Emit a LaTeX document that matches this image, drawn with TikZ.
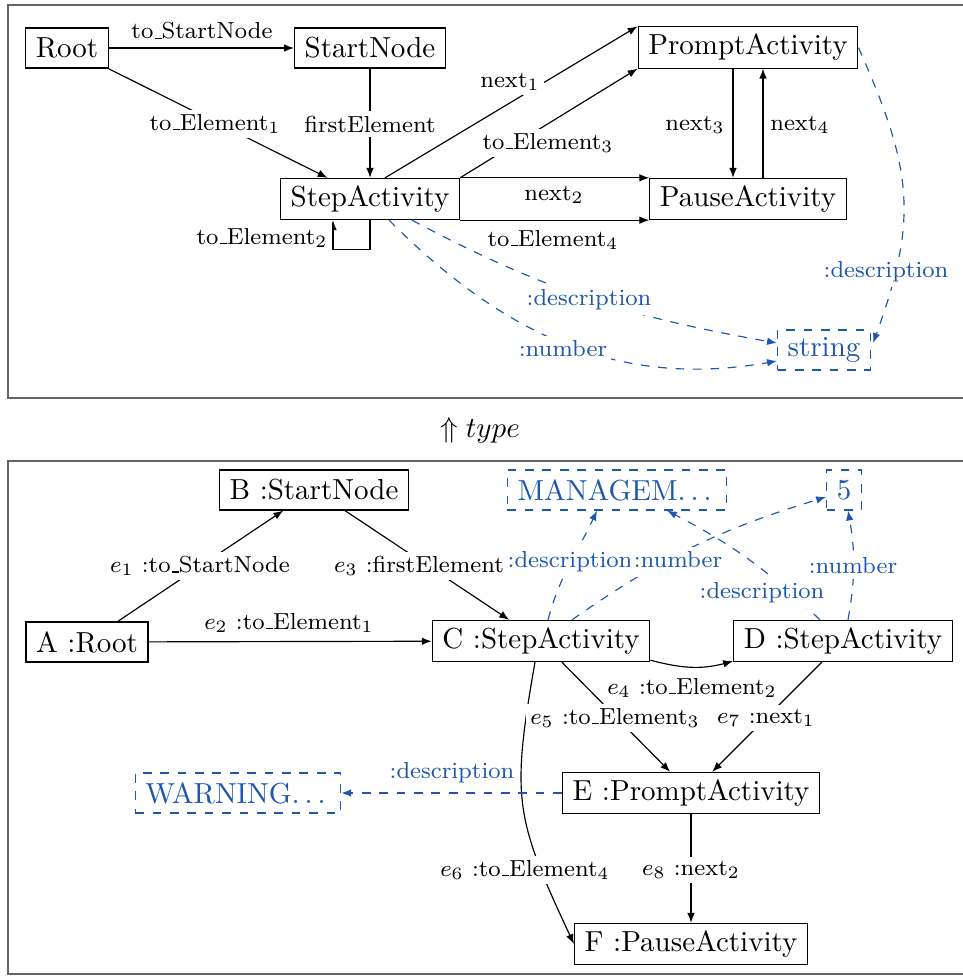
\documentclass[tikz,border=0pt]{standalone}
\usetikzlibrary{arrows.meta,calc}
\definecolor{attrblue}{RGB}{31,88,170}
\definecolor{framegray}{RGB}{100,100,100}
% short baseline underscore and spaced ellipsis
\newcommand{\uscore}{\leavevmode\kern.06em\vbox{\hrule width.3em}}
\newcommand{\spdots}{.\kern.17em.\kern.17em.\kern.17em}

\begin{document}
\begin{tikzpicture}[x=0.345pt,y=0.345pt,
  cls/.style={draw, font=\fontsize{10}{12}\selectfont, inner xsep=3.5pt, inner ysep=2.5pt, minimum height=13.8pt},
  val/.style={cls, dashed, draw=attrblue, text=attrblue},
  lbl/.style={font=\fontsize{8}{9.6}\selectfont, fill=white, inner sep=1.5pt},
  blbl/.style={lbl, text=attrblue},
  arr/.style={-{Latex[length=3.4pt,width=2.6pt]}, line width=0.4pt},
  attr/.style={arr, dashed, draw=attrblue},
  frame/.style={draw=framegray, line width=0.6pt}]

\useasboundingbox (0,0) rectangle (963,-976);
\clip (0,0) rectangle (963,-976);

% panel frames
\draw[frame] (8,-5) rectangle (985,-398);
\draw[frame] (8,-461) rectangle (985,-974);

\node (typing) at (480,-430) {$\Uparrow type$};

% ---------- type graph ----------
\node[cls] (root) at (67,-48) {Root};
\node[cls] (start) at (370,-48) {StartNode};
\node[cls] (step) at (370,-199) {StepActivity};
\node[cls] (prompt) at (748,-47.5) {PromptActivity};
\node[cls] (pause) at (748,-199) {PauseActivity};
\node[val] (str) at (824,-350) {string};

\draw[arr] (root) -- (start);
\draw[arr] (root) -- (step);
\draw[arr] (start) -- (step);
\draw[arr] ($(step.north)+(15,0)$) -- (prompt.north west);
\draw[arr] (step.north east) -- (prompt.south west);
\draw[arr] (step.north east) -- (pause.north west);
\draw[arr] (step.south east) -- (pause.south west);
\draw[arr] ($(prompt.south)+(-15,0)$) -- ($(pause.north)+(-15,0)$);
\draw[arr] ($(pause.north)+(15,0)$) -- ($(prompt.south)+(15,0)$);
\draw[arr] (step.south) -- ++(0,-29) -| ($(step.south)+(-37,0)$);

\draw[attr] ($(step.south)+(42,0)$) to[out=-28,in=170] ($(str.west)+(0,7)$);
\draw[attr] ($(step.south)+(19,0)$) to[out=-45,in=190] ($(str.west)+(0,-11)$);
\draw[attr] (prompt.east) to[out=-66,in=70,looseness=1.15] ($(str.east)+(2,7)$);

\node[lbl] (l-tsn) at (202,-31) {to\uscore StartNode};
\node[lbl] (l-te1) at (215,-124) {to\uscore Element$_1$};
\node[lbl] (l-fe) at (370,-124) {firstElement};
\node[lbl] (l-n1) at (510,-82) {next$_1$};
\node[lbl] (l-te3) at (548,-143) {to\uscore Element$_3$};
\node[lbl] (l-n2) at (554,-195) {next$_2$};
\node[lbl] (l-te4) at (553,-240) {to\uscore Element$_4$};
\node[lbl] (l-n3) at (695,-125) {next$_3$};
\node[lbl] (l-n4) at (800,-125) {next$_4$};
\node[lbl] (l-te2) at (262,-238) {to\uscore Element$_2$};
\node[blbl] (l-d1) at (589,-300) {:description};
\node[blbl] (l-num) at (563,-349) {:number};
\node[blbl] (l-d2) at (886,-272) {:description};

% ---------- instance graph ----------
\node[cls] (A) at (87,-642) {A :Root};
\node[cls] (B) at (314,-490) {B :StartNode};
\node[cls] (C) at (541,-641) {C :StepActivity};
\node[cls] (D) at (843,-641) {D :StepActivity};
\node[cls] (E) at (691,-793) {E :PromptActivity};
\node[cls] (F) at (691,-944) {F :PauseActivity};
\node[val] (M) at (617,-490) {MANAGEM\spdots};
\node[val] (N) at (844,-490) {5};
\node[val] (W) at (238,-793) {WARNING\spdots};

\draw[arr] (A) -- (B);
\draw[arr] (A) -- (C);
\draw[arr] (B) -- (C);
\draw[arr] ($(C.south east)+(0,2)$) to[out=-15,in=195] ($(D.south west)+(0,1)$);
\draw[arr] (C) -- (E);
\draw[arr] ($(C.south)+(-6,0)$) to[out=-100,in=115,looseness=1.25] (F.west);
\draw[arr] (D) -- (E);
\draw[arr] (E) -- (F);

\draw[attr] ($(C.north)+(7,0)$) to[out=75,in=-115] ($(M.south)+(-20,0)$);
\draw[attr] ($(C.north)+(31,0)$) to[out=35,in=197] ($(N.west)+(0,-7)$);
\draw[attr] ($(D.north)+(-23,0)$) to[bend right=8] ($(M.south)+(50,0)$);
\draw[attr] ($(D.north)+(5,0)$) to[bend right=10] ($(N.south)+(4,0)$);
\draw[attr] (E) -- (W);

\node[lbl] (l-e1) at (200,-566) {$e_1$ :to\uscore StartNode};
\node[lbl] (l-e2) at (289,-623) {$e_2$ :to\uscore Element$_1$};
\node[lbl] (l-e3) at (419,-566) {$e_3$ :firstElement};
\node[lbl] (l-e4) at (692,-688) {$e_4$ :to\uscore Element$_2$};
\node[lbl] (l-e5) at (615,-718) {$e_5$ :to\uscore Element$_3$};
\node[lbl] (l-e7) at (766,-718) {$e_7$ :next$_1$};
\node[lbl] (l-e6) at (525,-870) {$e_6$ :to\uscore Element$_4$};
\node[lbl] (l-e8) at (691,-870) {$e_8$ :next$_2$};
\node[blbl] (l-cd) at (570,-562) {:description};
\node[blbl] (l-cn) at (678,-560) {:number};
\node[blbl] (l-dd) at (762,-593) {:description};
\node[blbl] (l-dn) at (853,-566) {:number};
\node[blbl] (l-ed) at (452,-773) {:description};
\end{tikzpicture}
\end{document}
